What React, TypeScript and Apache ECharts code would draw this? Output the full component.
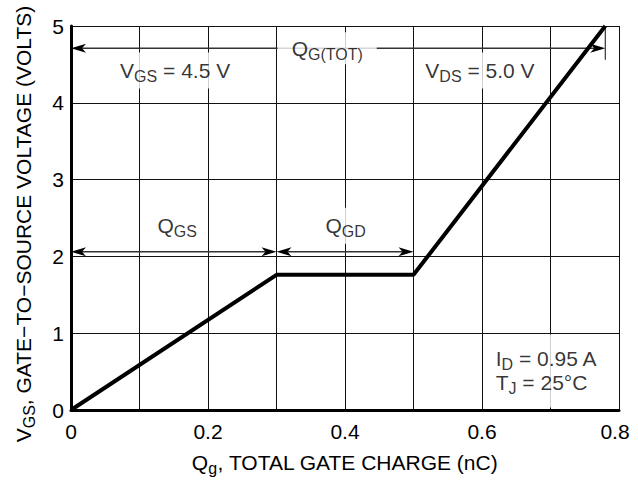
import React, { useEffect, useRef } from "react";
import * as echarts from "echarts";

// Gate charge curve (nC vs V)
const chargeNc = [0, 0.3, 0.5, 0.78];
const gateVolts = [0, 1.76, 1.76, 5];

// Axis tick labels
const xTickLabels = ["0", "0.2", "0.4", "0.6", "0.8"];
const yTickLabels = ["0", "1", "2", "3", "4", "5"];

// Dimension arrows (Q_G(TOT), Q_GS, Q_GD)
const arrowFrom = [0, 0, 0.3];
const arrowTo = [0.78, 0.3, 0.5];
const arrowLevel = [4.71, 2.06, 2.06];

// Q_G(TOT) end tick
const totTickX = [0.78];
const totTickTop = [5];
const totTickBottom = [4.56];

// Annotation texts and their anchors (data coordinates)
const noteTexts = [
  "{n|Q}{s|G(TOT)}",
  "{n|V}{s|GS}{n| = 4.5 V}",
  "{n|V}{s|DS}{n| = 5.0 V}",
  "{n|Q}{s|GS}",
  "{n|Q}{s|GD}",
  "{n|I}{s|D}{n| = 0.95 A}\n{n|T}{s|J}{n| = 25°C}",
];
const noteX = [0.374, 0.152, 0.597, 0.155, 0.401, 0.612];
const noteY = [4.71, 4.42, 4.42, 2.4, 2.4, 0.508];

const xAxisName = "{n|Q}{s|g}{n|, TOTAL GATE CHARGE (nC)}";
const yAxisName = "{n|V}{s|GS}{n|, GATE\u2212TO\u2212SOURCE VOLTAGE (VOLTS)}";

const FONT = "'Liberation Sans', Arial, Helvetica, sans-serif";

const rich = {
  n: { fontSize: 21, lineHeight: 24, fontFamily: FONT, color: "#000" },
  s: { fontSize: 16, height: 12, verticalAlign: "bottom", fontFamily: FONT, color: "#000" },
};

export default function App() {
  const ref = useRef<HTMLDivElement>(null);

  useEffect(() => {
    if (!ref.current) return;
    const chart = echarts.init(ref.current, undefined, { renderer: "svg" });

    const notePaddings = [
      [4, 14],
      [6, 4],
      [6, 4],
      [6, 4],
      [6, 4],
      [12, 8, 13, 5],
    ];

    const noteData = noteTexts.map((t, i) => ({
      value: [noteX[i], noteY[i]],
      label: {
        formatter: t,
        padding: notePaddings[i],
        position: i === 5 ? "right" : "inside",
        distance: 0,
        align: i === 5 ? "left" : "center",
      },
    }));

    const option: any = {
      animation: false,
      backgroundColor: "#fff",
      grid: { left: 71, right: 19, top: 26, bottom: 71, containLabel: false, outerBoundsMode: "none" },
      xAxis: {
        type: "value",
        min: 0,
        max: 0.8,
        interval: 0.1,
        name: xAxisName,
        nameLocation: "middle",
        nameGap: 40,
        nameTextStyle: { rich, fontFamily: FONT, fontSize: 21, color: "#000" },
        axisLine: { show: true, onZero: false, lineStyle: { color: "#000", width: 3 } },
        axisTick: { show: false },
        splitLine: { show: true, lineStyle: { color: "#111", width: 1 } },
        axisLabel: {
          margin: 11,
          color: "#000",
          fontSize: 21,
          fontFamily: FONT,
          formatter: (v: number) => {
            const k = Math.round(v * 10);
            if (k % 2 !== 0) return "";
            const lbl = xTickLabels[k / 2];
            return k === 8 ? "{r|" + lbl + "}" : lbl;
          },
          rich: { r: { fontSize: 21, fontFamily: FONT, color: "#000", padding: [0, 8, 0, 0] } },
        },
      },
      yAxis: {
        type: "value",
        min: 0,
        max: 5,
        interval: 1,
        name: yAxisName,
        nameLocation: "middle",
        nameGap: 36,
        nameTextStyle: { rich, fontFamily: FONT, fontSize: 21, color: "#000", padding: [0, 12, 0, 0] },
        axisLine: { show: true, onZero: false, lineStyle: { color: "#000", width: 3 } },
        axisTick: { show: false },
        splitLine: { show: true, lineStyle: { color: "#111", width: 1 } },
        axisLabel: {
          margin: 7,
          color: "#000",
          fontSize: 21,
          fontFamily: FONT,
          formatter: (v: number) => yTickLabels[Math.round(v)] ?? "",
        },
      },
      series: [
        {
          type: "custom",
          coordinateSystem: "cartesian2d",
          silent: true,
          z: 3,
          encode: { x: [0, 1], y: 2 },
          data: arrowFrom.map((f, i) => [f, arrowTo[i], arrowLevel[i]]),
          renderItem: (params: any, api: any) => {
            const y = api.value(2);
            const a = api.coord([api.value(0), y]);
            const b = api.coord([api.value(1), y]);
            const L = 15, W = 4.5, N = 11;
            return {
              type: "group",
              children: [
                {
                  type: "line",
                  shape: { x1: a[0] + N, y1: a[1], x2: b[0] - N, y2: b[1] },
                  style: { stroke: "#333", lineWidth: 1.4 },
                },
                {
                  type: "polygon",
                  shape: { points: [[a[0], a[1]], [a[0] + L, a[1] - W], [a[0] + N, a[1]], [a[0] + L, a[1] + W]] },
                  style: { fill: "#000" },
                },
                {
                  type: "polygon",
                  shape: { points: [[b[0], b[1]], [b[0] - L, b[1] - W], [b[0] - N, b[1]], [b[0] - L, b[1] + W]] },
                  style: { fill: "#000" },
                },
              ],
            };
          },
        },
        {
          type: "custom",
          coordinateSystem: "cartesian2d",
          silent: true,
          z: 3,
          encode: { x: 0, y: [1, 2] },
          data: totTickX.map((x, i) => [x, totTickTop[i], totTickBottom[i]]),
          renderItem: (params: any, api: any) => {
            const a = api.coord([api.value(0), api.value(1)]);
            const b = api.coord([api.value(0), api.value(2)]);
            return {
              type: "line",
              shape: { x1: a[0], y1: a[1], x2: b[0], y2: b[1] },
              style: { stroke: "#333", lineWidth: 1.2 },
            };
          },
        },
        {
          type: "scatter",
          silent: true,
          z: 5,
          symbol: "circle",
          symbolSize: 1,
          itemStyle: { color: "rgba(0,0,0,0)" },
          label: {
            show: true,
            backgroundColor: "#fff",
            color: "#000",
            fontFamily: FONT,
            fontSize: 21,
            rich,
          },
          data: noteData,
        },
        {
          type: "line",
          silent: true,
          z: 6,
          symbol: "none",
          lineStyle: { color: "#000", width: 4 },
          data: chargeNc.map((x, i) => [x, gateVolts[i]]),
        },
      ],
    };

    chart.setOption(option);
    return () => chart.dispose();
  }, []);

  return (
    <div
      ref={ref}
      style={{ position: "absolute", left: 0, top: 0, width: 638, height: 481, background: "#fff" }}
    />
  );
}
